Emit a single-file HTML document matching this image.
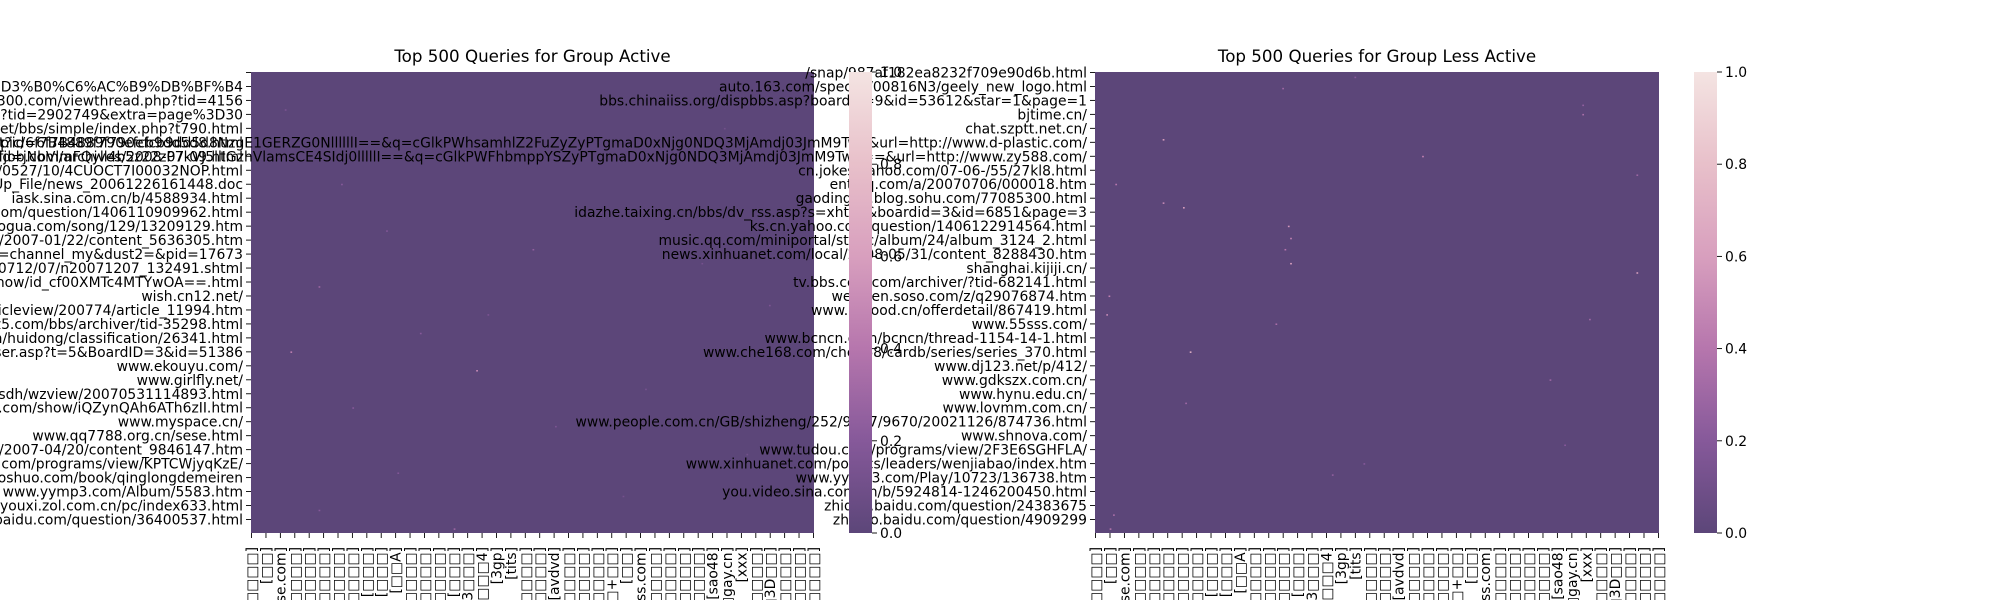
<!DOCTYPE html>
<html><head><meta charset="utf-8">
<style>
html,body{margin:0;padding:0;background:#fff;overflow:hidden;width:2000px;height:600px;}
svg{display:block;font-family:"DejaVu Sans","Liberation Sans","Noto Sans CJK SC",sans-serif;}
</style></head>
<body>
<svg id="fig" width="2000" height="600" viewBox="0 0 2000 600" xmlns="http://www.w3.org/2000/svg">
<defs>
<linearGradient id="cmap" x1="0" y1="1" x2="0" y2="0">
<stop offset="0" stop-color="#5c4679"/><stop offset="0.2" stop-color="#86599a"/>
<stop offset="0.4" stop-color="#b676ad"/><stop offset="0.6" stop-color="#d89fbe"/>
<stop offset="0.8" stop-color="#e8c0ca"/><stop offset="1" stop-color="#f4e4e2"/>
</linearGradient>
</defs>
</svg>
<script>
const nRows = 495;
const nCols = 500;
const cbTicks = [0.0, 0.2, 0.4, 0.6, 0.8, 1.0];
const activeLabels = ["","ssearch.asp?key=%D3%B0%C6%AC%B9%DB%BF%B4","bbs.xyz300.com/viewthread.php?tid=4156","bbs.abc.com/viewthread.php?tid=2902749&extra=page%3D30","www.xyz.net/bbs/simple/index.php?t790.html","imgs.xyz.com/pic/6f7B4889f790efcb9dd5d8.html","www.dfjob.com/archives/2008-07-09.html","news.163.com/07/0527/10/4CUOCT7I00032NOP.html","www.xyz.gov.cn/Up_File/news_20061226161448.doc","iask.sina.com.cn/b/4588934.html","ks.cn.yahoo.com/question/1406110909962.html","music.xiaogua.com/song/129/13209129.htm","news.xinhuanet.com/2007-01/22/content_5636305.htm","www.xyz.com/?dust1=channel_my&dust2=&pid=17673","news.sina.com.cn/0712/07/n20071207_132491.shtml","v.youku.com/v_show/id_cf00XMTc4MTYwOA==.html","wish.cn12.net/","www.xyz.com/articleview/200774/article_11994.htm","www.xyz5.com/bbs/archiver/tid-35298.html","www.xyz.com/huidong/classification/26341.html","bbs.xyz.com/dispuser.asp?t=5&BoardID=3&id=51386","www.ekouyu.com/","www.girlfly.net/","www.xyzsdh/wzview/20070531114893.html","www.56.com/show/iQZynQAh6ATh6zII.html","www.myspace.cn/","www.qq7788.org.cn/sese.html","news.xinhuanet.com/2007-04/20/content_9846147.htm","www.tudou.com/programs/view/KPTCWjyqKzE/","www.xiaoshuo.com/book/qinglongdemeiren","www.yymp3.com/Album/5583.htm","youxi.zol.com.cn/pc/index633.html","zhidao.baidu.com/question/36400537.html"];
const lessLabels = ["/snap/987af182ea8232f709e90d6b.html","auto.163.com/special/00816N3/geely_new_logo.html","bbs.chinaiiss.org/dispbbs.asp?boardid=9&id=53612&star=1&page=1","bjtime.cn/","chat.szptt.net.cn/","www.sogou.com/websnapshot?id=6f7B4889f790efcb9dd5d8NzgE1GERZG0NllllllI==&q=cGlkPWhsamhlZ2FuZyZyPTgmaD0xNjg0NDQ3MjAmdj03JmM9TwA&url=http://www.d-plastic.com/","www.sogou.com/websnapshot?id=jNbVlmFQyll4b5z22zP7kVJ5llIGzhVlamsCE4SIdj0lllllI==&q=cGlkPWFhbmppYSZyPTgmaD0xNjg0NDQ3MjAmdj03JmM9TwA==&url=http://www.zy588.com/","cn.jokes.yahoo.com/07-06-/55/27kl8.html","ent.qq.com/a/20070706/000018.htm","gaodingqu.blog.sohu.com/77085300.html","idazhe.taixing.cn/bbs/dv_rss.asp?s=xhtml&boardid=3&id=6851&page=3","ks.cn.yahoo.com/question/1406122914564.html","music.qq.com/miniportal/static/album/24/album_3124_2.html","news.xinhuanet.com/local/2008-05/31/content_8288430.htm","shanghai.kijiji.cn/","tv.bbs.cctv.com/archiver/?tid-682141.html","wenwen.soso.com/z/q29076874.htm","www.21food.cn/offerdetail/867419.html","www.55sss.com/","www.bcncn.com/bcncn/thread-1154-14-1.html","www.che168.com/che168/cardb/series/series_370.html","www.dj123.net/p/412/","www.gdkszx.com.cn/","www.hynu.edu.cn/","www.lovmm.com.cn/","www.people.com.cn/GB/shizheng/252/9667/9670/20021126/874736.html","www.shnova.com/","www.tudou.com/programs/view/2F3E6SGHFLA/","www.xinhuanet.com/politics/leaders/wenjiabao/index.htm","www.yymp3.com/Play/10723/136738.htm","you.video.sina.com.cn/b/5924814-1246200450.html","zhidao.baidu.com/question/24383675","zhidao.baidu.com/question/4909299"];
const xLabels = ["[□□□□□□□]","[□□]","[□□□□se.com]","[□□□□□]","[□□□□□□]","[□□□□□]","[□□□□□]","[□□□□]","[□□□]","[□□□]","[□□A]","[□□□□□]","[□□□□□]","[□□□□]","[□□□]","[□□□3□□□]","[□□□□4]","[3gp]","[tits]","[□□□□□]","[□□□□]","[avdvd]","[□□□□□]","[□□□□□]","[□□□□□]","[□□□+□□]","[□□]","[□□□ss.com]","[□□□□□]","[□□□□□]","[□□□□]","[□□□□□□]","[sao48]","[□□gay.cn]","[xxx]","[□□□□□]","[□□3D□□]","[□□□□□]","[□□□□□□]","[□□□□□□□]"];
const activeCellRows = [40,85,120,150,170,190,205,230,260,280,300,320,340,360,380,410,430,455,470,490,60,250];
const activeCellCols = [30,190,80,310,120,250,400,60,210,150,35,200,350,90,270,440,130,330,60,180,420,460];
const activeCellVals = [0.15,0.12,0.2,0.1,0.18,0.25,0.12,0.3,0.15,0.2,0.45,0.5,0.12,0.2,0.15,0.1,0.18,0.12,0.2,0.3,0.1,0.15];
const lessCellRows = [5,17,35,45,72,90,110,120,140,145,165,178,190,205,215,240,260,265,270,300,330,355,400,420,432,475,490];
const lessCellCols = [230,166,432,432,60,290,480,18,60,78,171,173,168,173,480,12,10,438,160,84,403,80,416,238,210,16,13];
const lessCellVals = [0.2,0.3,0.25,0.35,0.6,0.45,0.3,0.4,0.5,0.6,0.55,0.45,0.4,0.6,0.6,0.45,0.5,0.3,0.35,0.7,0.3,0.3,0.2,0.2,0.25,0.35,0.4];

const NS = "http://www.w3.org/2000/svg";
const svg = document.getElementById('fig');
function mk(tag, attrs, parent){ const e=document.createElementNS(NS,tag); for(const k in attrs) e.setAttribute(k,attrs[k]); (parent||svg).appendChild(e); return e; }
const stops=[[0,[0x5c,0x46,0x79]],[0.2,[0x86,0x59,0x9a]],[0.4,[0xb6,0x76,0xad]],[0.6,[0xd8,0x9f,0xbe]],[0.8,[0xe8,0xc0,0xca]],[1,[0xf4,0xe4,0xe2]]];
function cmap(v){ for(let i=1;i<stops.length;i++){ if(v<=stops[i][0]){ const a=stops[i-1],b=stops[i]; const t=(v-a[0])/(b[0]-a[0]); return 'rgb('+a[1].map((c,j)=>Math.round(c+(b[1][j]-c)*t)).join(',')+')'; } } return 'rgb(244,228,226)'; }

function colorbar(name, cbx, y0, y1){
  const cb = mk('g',{});
  
  
  mk('rect',{x:cbx,y:y0,width:23,height:y1-y0,fill:'url(#cmap)'},cb);
  for(const v of cbTicks){
    const y = y1 - v*(y1-y0);
    mk('line',{x1:cbx+23,x2:cbx+28,y1:y,y2:y,stroke:'#000','stroke-width':0.9},cb);
    const l = mk('text',{x:cbx+31,y:y+5,'font-size':'13.9'},cb);
    l.textContent = v.toFixed(1);
    
    
  }
}

function heatmap(name, x0, x1, y0, y1, title, yLabels, rows, cols, vals){
  const g = mk('g',{});
  
  
  const xs = c => x0 + (c/nCols)*(x1-x0);
  const ys = r => y0 + (r/nRows)*(y1-y0);
  const bg = mk('rect',{x:x0,y:y0,width:x1-x0,height:y1-y0,fill:cmap(0)},g);
  
  
  for(let i=0;i<rows.length;i++){
    const c = mk('rect',{x:xs(cols[i]),y:ys(rows[i]),width:(x1-x0)/nCols+0.6,height:(y1-y0)/nRows+0.6,fill:cmap(vals[i])},g);
    
    
  }
  const t = mk('text',{x:(x0+x1)/2,y:y0-10,'text-anchor':'middle','font-size':'16.7'},g);
  t.textContent = title;
  
  
  for(let i=0;i<yLabels.length;i++){
    const y = ys(i*15+0.5);
    mk('line',{x1:x0-5,x2:x0,y1:y,y2:y,stroke:'#000','stroke-width':0.9},g);
    const l = mk('text',{x:x0-8,y:y+5,'text-anchor':'end','font-size':'13.9'},g);
    l.textContent = yLabels[i];
    
    
  }
  const n = xLabels.length;
  for(let i=0;i<n;i++){
    const x = xs(0.5 + i*(nCols-1)/(n-1));
    mk('line',{x1:x,x2:x,y1:y1,y2:y1+5,stroke:'#000','stroke-width':0.9},g);
    const l = mk('text',{x:0,y:0,'text-anchor':'end','font-size':'13.9',transform:'translate('+(x+5)+','+(y1+14)+') rotate(-90)'},g);
    l.textContent = xLabels[i];
    
    
  }
}
heatmap('heatmap-active', 251, 814, 72, 533, 'Top 500 Queries for Group Active', activeLabels, activeCellRows, activeCellCols, activeCellVals);
heatmap('heatmap-less-active', 1095, 1659, 72, 533, 'Top 500 Queries for Group Less Active', lessLabels, lessCellRows, lessCellCols, lessCellVals);
colorbar('heatmap-active', 849, 72, 533);
colorbar('heatmap-less-active', 1694, 72, 533);
</script>
</body></html>
